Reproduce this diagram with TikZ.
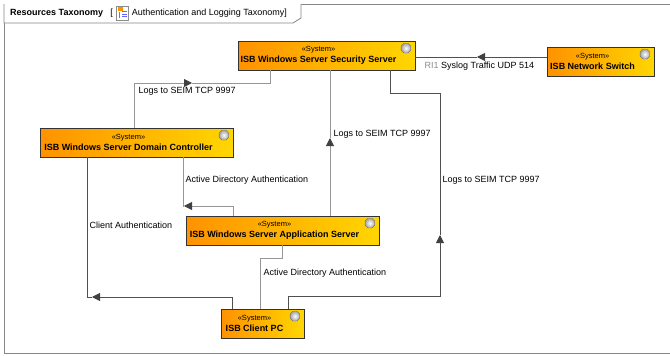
\documentclass[tikz,border=0pt]{standalone}
\usepackage{fontspec}
\setmainfont{Liberation Sans}
\usetikzlibrary{arrows.meta,positioning,shapes.geometric}
\definecolor{sysorange}{RGB}{255,146,0}
\definecolor{sysyellow}{RGB}{255,214,0}
\definecolor{framegray}{RGB}{135,135,135}
\definecolor{wiredark}{RGB}{80,80,80}
\definecolor{wirelight}{RGB}{150,150,150}

\begin{document}
\begin{tikzpicture}[x=1pt,y=-1pt,>={Triangle[length=8pt,width=8pt,color=black!75]},
  sysbox/.style={draw=black!80,line width=0.8pt,left color=sysorange,right color=sysyellow,minimum height=29pt,inner sep=0pt},
  systext/.style={align=center,inner sep=0pt,font=\fontsize{9}{11.5}\selectfont\bfseries},
  gem/.style={regular polygon,regular polygon sides=8,draw=black!60,inner color=white,outer color=black!35,inner sep=0pt,minimum size=10.5pt},
  wire/.style={draw=wirelight,line width=0.9pt},
  wirek/.style={draw=wiredark,line width=0.9pt},
  lbl/.style={anchor=west,inner sep=0pt,font=\fontsize{9}{10}\selectfont},
  hdr/.style={inner sep=0pt,font=\fontsize{9}{10}\selectfont},
  tabicon/.style={draw=black!45,fill=white,minimum width=12pt,minimum height=14pt,inner sep=0pt}]
\useasboundingbox (0,0) rectangle (670,356);
\draw[framegray,line width=0.8pt] (670,4) -| (4,353) -- (670,353);
\draw[framegray,line width=0.8pt,fill=white] (4,4) -- (4,23) -- (293,23) -- (301,18) -- (301,4);
\node[hdr,anchor=west,font=\fontsize{9}{10}\selectfont\bfseries] (ttl) at (10,13) {Resources Taxonomy};
\node[hdr] (brk) [right=7pt of ttl] {[};
\node[tabicon] (ico) [right=3pt of brk] {};
\fill[sysorange] ([shift={(1.5,1.5)}]ico.north west) rectangle ++(5,4);
\foreach \k in {6,8.5,11} \draw[blue!60,line width=0.9pt] ([shift={(6,\k)}]ico.north west) -- ++(5,0);
\draw[black!50] ([shift={(3.5,6)}]ico.north west) -- ++(0,6);
\node[hdr] (dname) [right=3pt of ico] {Authentication and Logging Taxonomy]};

\node[sysbox,minimum width=177pt] (ss) at (326.5,55.5) {};
\node[sysbox,minimum width=107pt] (sw) at (600.5,61.5) {};
\node[sysbox,minimum width=193pt] (dc) at (136.5,142.5) {};
\node[sysbox,minimum width=193pt] (app) at (282.5,230.5) {};
\node[sysbox,minimum width=83pt] (pc) at (262.5,323.5) {};
\foreach \n/\t in {ss/ISB Windows Server Security Server,sw/ISB Network Switch,dc/ISB Windows Server Domain Controller,app/ISB Windows Server Application Server,pc/ISB Client PC}{
  \node[systext] (\n-t) at ([xshift=-8pt]\n.center) {{\fontsize{7.5}{9}\selectfont\mdseries «System»}\\\t};
  \node[gem] (\n-i) at ([xshift=-9.5pt,yshift=-7.5pt]\n.north east) {};
}

\coordinate (t1) at (192,83);
\coordinate (t2) at (477,57);
\coordinate (t3) at (330,138);
\coordinate (t4) at (440,235);
\coordinate (t5) at (184,206);
\coordinate (t6) at (92,297);

\draw[wire,->] ([xshift=-2.5pt]dc.north) |- (t1);
\draw[wire] (t1) -| ([xshift=-56.5pt]ss.south);
\draw[wirek,->] ([yshift=4.5pt]sw.west) -- (t2);
\draw[wirek] (t2) -- ([yshift=-1.5pt]ss.east);
\draw[wire,->] ([xshift=47.5pt]app.north) -- (t3);
\draw[wire] (t3) -- ([xshift=3.5pt]ss.south);
\draw[wirek,->] ([xshift=25.5pt]pc.north) -- ++(0,-12) -| (t4);
\draw[wirek] (t4) |- ([xshift=63.5pt,yshift=-23pt]ss.south) -- ([xshift=63.5pt]ss.south);
\draw[wire,->] ([xshift=-49.5pt]app.north) |- (t5);
\draw[wire] (t5) -| ([xshift=46.5pt]dc.south);
\draw[wirek,->] ([xshift=-30.5pt]pc.north) |- (t6);
\draw[wirek] (t6) -| ([xshift=-49.5pt]dc.south);
\draw[wire] ([xshift=-2.5pt]pc.north) -- ++(0,-50) -| ([xshift=-0.5pt]app.south);

\node[lbl] (l1) at (138.5,91) {Logs to SEIM TCP 9997};
\node[lbl] (l2) at (424.5,66) {{\color{black!45}RI1} Syslog Traffic UDP 514};
\node[lbl] (l3) at (333.5,134) {Logs to SEIM TCP 9997};
\node[lbl] (l4) at (442.5,180.5) {Logs to SEIM TCP 9997};
\node[lbl] (l5) at (185.5,180.5) {Active Directory Authentication};
\node[lbl] (l6) at (89.5,225) {Client Authentication};
\node[lbl] (l7) at (263.5,273) {Active Directory Authentication};
\end{tikzpicture}
\end{document}
